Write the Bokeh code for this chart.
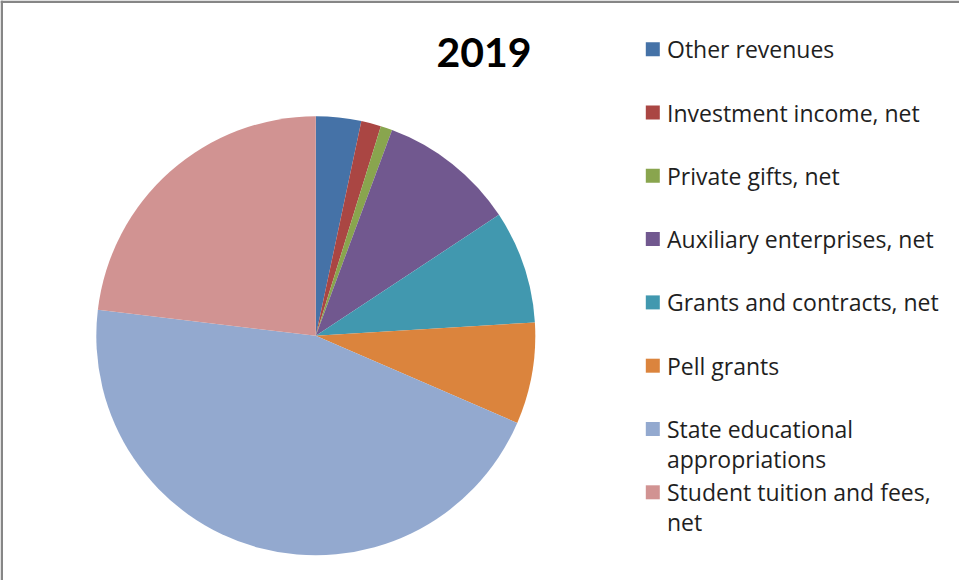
import numpy as np
from bokeh.plotting import figure
from bokeh.models import ColumnDataSource, Range1d, Span
from bokeh.core.properties import value
from bokeh.embed import file_html
from bokeh.resources import INLINE

# ---- data ----
title = "2019"
categories = [
    "Other revenues",
    "Investment income, net",
    "Private gifts, net",
    "Auxiliary enterprises, net",
    "Grants and contracts, net",
    "Pell grants",
    "State educational appropriations",
    "Student tuition and fees, net",
]
legend_lines = [
    ["Other revenues"],
    ["Investment income, net"],
    ["Private gifts, net"],
    ["Auxiliary enterprises, net"],
    ["Grants and contracts, net"],
    ["Pell grants"],
    ["State educational", "appropriations"],
    ["Student tuition and fees,", "net"],
]
shares = [3.33, 1.46, 0.86, 10.06, 8.32, 7.47, 45.40, 23.10]
colors = ["#4572A7", "#AA4643", "#89A54E", "#71588F",
          "#4198AF", "#DB843D", "#93A9CF", "#D19392"]

# ---- layout (screen px, canvas origin top-left) ----
W, H = 959, 580
def Y(py):  # convert canvas y (down) to data y (up)
    return H - py

cx, cy, r = 315.3, Y(335.3), 219.5

p = figure(width=W, height=H, x_range=Range1d(0, W), y_range=Range1d(0, H),
           output_backend="svg", toolbar_location=None, min_border=0)
p.axis.visible = False
p.grid.visible = False
p.outline_line_color = None
p.background_fill_color = "white"
p.border_fill_color = "white"

vals = np.array(shares, dtype=float)
frac = vals / vals.sum()
cum = np.concatenate([[0.0], np.cumsum(frac)])
start = np.pi / 2 - 2 * np.pi * cum[:-1]
end = np.pi / 2 - 2 * np.pi * cum[1:]

src = ColumnDataSource(dict(cat=categories, start=start, end=end, color=colors))
p.wedge(x=cx, y=cy, radius=r, start_angle="start", end_angle="end",
        direction="clock", fill_color="color", line_color=None, source=src)

# title
p.text(x=[483.5], y=[Y(52.0)], text=[title], text_font=value("Lato"),
       text_font_style="bold", text_font_size="41px", text_align="center",
       text_baseline="middle", text_color="#000000")

# legend
row0, dy = 48.7, 63.3
sq_x, tx_x = 652.3, 666.5
sq = ColumnDataSource(dict(x=[sq_x] * len(categories),
                           y=[Y(row0 + i * dy) for i in range(len(categories))],
                           color=colors))
p.rect(x="x", y="y", width=14, height=14, fill_color="color", line_color=None, source=sq)

tx, ty, tt = [], [], []
for i, lines in enumerate(legend_lines):
    for j, ln in enumerate(lines):
        tx.append(tx_x)
        ty.append(Y(row0 + i * dy + j * 30))
        tt.append(ln)
p.text(x="x", y="y", text="text", source=ColumnDataSource(dict(x=tx, y=ty, text=tt)),
       text_font=value("Open Sans"), text_font_size="23px", text_align="left",
       text_baseline="middle", text_color="#1f1f1f")

# chart-area border (left and top edges visible)
p.add_layout(Span(location=1.25, dimension="height", line_color="#868686", line_width=2.5))
p.add_layout(Span(location=H - 1.25, dimension="width", line_color="#868686", line_width=2.5))

open("out.html", "w").write(file_html(p, INLINE))
